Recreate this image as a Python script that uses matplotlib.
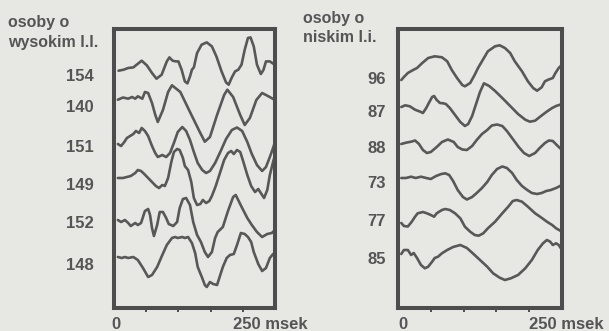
import matplotlib
matplotlib.use("Agg")
import matplotlib.pyplot as plt

# ---------------- data (time in ms, amplitude in arbitrary units) ----------------
left_labels = ["154", "140", "151", "149", "152", "148"]
right_labels = ["96", "87", "88", "73", "77", "85"]

# left panel: osoby o wysokim l.l.
t154 = [7, 15, 22, 30, 43, 51, 59, 66, 74, 82, 86, 91, 96, 100, 105, 110, 114, 118, 121, 124,
        129, 136, 144, 152, 159, 167, 174, 178, 183, 188, 193, 198, 203, 208, 212, 217, 222, 228,
        232, 236, 242, 248, 250]
a154 = [0, 1, 2.7, 3.3, 10, 5.3, -2.3, -8, -4, 9.3, 13.3, 10, 9.3, 9.3, 1, -10.7, -12.7, -5.7, 1,
        3.3, 17.7, 26, 28.3, 24.3, 14.3, -0.7, -11.7, -14, -6.7, -0.7, 1, 6, 21, 32.7, 33.3, 24.3,
        6, -3.3, 0.7, 9.3, 9.3, 6.7, 5.3]

t140 = [6, 14, 22, 28, 33, 37, 44, 48, 53, 59, 64, 68, 76, 84, 90, 103, 118, 134, 141, 149, 160,
        171, 176, 185, 196, 203, 211, 221, 230, 239, 250]
a140 = [0, 2.2, 1, 2.7, 1, 3.4, 1, 7.7, 6.7, -3.3, -15, -22.3, -10.3, 7.7, 14.4, 7.7, -12.3,
        -33.3, -42, -37.3, -15.3, 4.7, 10, 2.7, -15.3, -25.3, -18.3, -0.3, 6.7, 3.7, -0.3]

t151 = [6, 11, 16, 20, 25, 30, 34, 39, 43, 48, 53, 59, 64, 68, 75, 81, 87, 93, 99, 106, 112, 118,
        124, 130, 137, 143, 149, 157, 165, 174, 183, 191, 199, 207, 214, 222, 230, 236, 242, 247,
        250]
a151 = [0, -2, 2, 6, 8, 10, 13, 11, 16, 13, 8, -2, -9, -13, -11, -13, -9, 1, 12, 17, 13, 4, -8,
        -19, -26, -29, -27, -19, -8, 5, 14, 16.5, 13, 2, -10, -21, -27, -23, -13, -4, 2]

t149 = [6, 14, 20, 26, 33, 37, 42, 47, 53, 59, 65, 70, 75, 79, 84, 89, 93, 98, 102, 107, 110, 115,
        120, 124, 129, 134, 138, 143, 148, 152, 158, 165, 171, 177, 182, 186, 191, 196, 200, 207,
        213, 219, 224, 228, 233, 238, 242, 247, 250]
a149 = [0, 0, 1, 2, 5, 8, 7, 4, 0, -4, -8, -10, -7, -8, 0, 16, 26, 29, 28, 20, 12, 8, -4, -20, -27,
        -26, -22, -25, -23, -18, -8, 6, 18, 25, 27, 24, 28, 26, 18, 3, -8, -14, -11, -15, -20, -12,
        3, 16, 23]

t152 = [6, 11, 17, 22, 26, 33, 37, 42, 48, 53, 56, 59, 62, 67, 71, 76, 81, 85, 92, 98, 102, 107,
        112, 118, 123, 129, 135, 141, 146, 152, 157, 161, 169, 177, 185, 189, 199, 207, 214, 222,
        230, 238, 245, 250]
a152 = [0, -2, 0, -3, -6, -3, -5, -3, 9, 11, 5, -8, -16, -5, 8, 8, 2, -4, -6, -2, 12, 21, 22, 15,
        -2, -15, -22, -32, -37, -32, -18, -12, -7, 9, 23, 25, 12, 2, -5, -12, -17, -14, -13, -10]

t148 = [6, 12, 17, 22, 30, 37, 45, 53, 59, 67, 75, 82, 90, 95, 99, 106, 110, 115, 121, 126, 130,
        137, 141, 144, 149, 154, 160, 165, 169, 175, 180, 186, 191, 197, 203, 208, 213, 217, 224,
        230, 236, 242, 247, 250]
a148 = [0, -1, 0, -1, 0, -3, -11, -20, -18, -10, 2, 12, 19, 20, 19, 20, 19, 20, 14, 4, -10, -21,
        -28, -30, -25, -27, -28, -18, -10, -1, 2, 3, 12, 24, 23, 20, 15, 5, -7, -14, -11, -1, 3, 1]

# right panel: osoby o niskim l.i.
t96 = [5, 9, 15, 23, 29, 37, 46, 56, 67, 75, 82, 90, 98, 102, 110, 117, 122, 128, 137, 148, 155,
       163, 171, 178, 189, 198, 206, 212, 219, 224, 229, 236, 240, 245, 250]
a96 = [0, 3, 7, 10, 12, 17, 22, 23.7, 22.7, 18.7, 10, 2, -5, -6.3, -3, 5.3, 12, 18.7, 28.7, 33.7,
       34.7, 32, 27, 18.7, 8.7, -1.3, -8, -10.7, -7.3, -1.3, 0.3, 2, 7, 12, 15.3]

t87 = [5, 11, 18, 26, 34, 38, 43, 47, 52, 55, 59, 64, 69, 73, 79, 87, 95, 102, 107, 113, 119, 125,
       131, 139, 148, 159, 171, 183, 194, 201, 209, 216, 226, 235, 241, 250]
a87 = [0, 1.7, 0.7, -2.7, -4.7, -6, -1, 4, 10, 11, 7, 4, 3.7, 3, -1, -8, -15, -19, -17, -9, 3, 15,
       23.7, 21, 16, 9, 1, -7, -12.7, -14.7, -13.7, -10, -5, -1, 1, 3]

t88 = [5, 12, 20, 26, 32, 38, 44, 50, 59, 67, 76, 85, 91, 98, 105, 113, 120, 128, 136, 143, 151,
       159, 166, 175, 184, 192, 200, 209, 216, 224, 230, 236, 242, 250]
a88 = [0, 1.3, 2.3, 3.5, 0, -6, -9, -8, -3, 2, 4.5, 2, -3, -5.5, -6, -2, 4, 10, 14, 18.5, 19.5,
       18, 13, 5, -3, -9, -12, -9, -4, 1, 3.5, 3, -1, -6]

t73 = [5, 12, 20, 27, 35, 43, 50, 58, 66, 72, 78, 84, 91, 99, 105, 113, 120, 128, 136, 143, 151,
       159, 166, 174, 181, 189, 197, 204, 212, 219, 226, 233, 241, 250]
a73 = [0, 0, 1.3, 0, 1.3, 0, -1, 2, 4, 4.7, 3, -3, -12, -19, -21.5, -19, -15, -10, -4, 3, 9, 11.5,
       10, 5, -2, -8, -12, -15, -16, -15, -13, -12, -10, -7]

t77 = [5, 9, 15, 21, 26, 30, 38, 44, 50, 55, 59, 67, 72, 79, 87, 95, 102, 110, 117, 123, 130, 137,
       148, 159, 168, 175, 181, 189, 198, 209, 220, 227, 235, 241, 250]
a77 = [0, -3, -3.5, 1.3, 6.3, 9.7, 11, 9.7, 8, 6.3, 9.7, 13, 14, 13, 9.7, 4.7, -3.7, -8.7, -12,
       -12.7, -10.3, -5.3, 1.3, 9.7, 16.3, 22, 23, 21.3, 16.3, 9.7, 4.7, 1.3, -2, -5.3, -8.7]

t85 = [5, 9, 15, 20, 24, 29, 35, 41, 46, 52, 56, 61, 67, 75, 84, 95, 105, 114, 125, 136, 145, 155,
       163, 172, 183, 194, 204, 213, 221, 227, 232, 236, 241, 245, 250]
a85 = [0, 4, 4, -1, 1, -4, -11, -14.3, -12.7, -7.7, -4, -2.7, 0.7, 4, 7, 9, 6, 0.7, -6, -12.7,
       -19.3, -23.7, -26, -24.3, -21, -14.3, -6, 4, 10.7, 14, 12.3, 9, 10.7, 9, 4]

left_series = [(t154, a154), (t140, a140), (t151, a151), (t149, a149), (t152, a152), (t148, a148)]
right_series = [(t96, a96), (t87, a87), (t88, a88), (t73, a73), (t77, a77), (t85, a85)]

# ---------------- layout ----------------
left_baselines = [237.3, 208.3, 164, 130, 88, 51]
right_baselines = [228, 201, 164, 130, 85, 54]
left_label_pos = [233, 201.5, 161.5, 124.5, 86.5, 43.5]
right_label_pos = [230, 197, 161, 126, 88, 50]

BG = "#e7e7e3"
INK = "#585858"
FRAME = "#4d4d4d"
TXT = "#555555"
W, H = 609, 331

plt.rcParams["font.family"] = ["Liberation Sans", "DejaVu Sans"]

fig = plt.figure(figsize=(W / 100, H / 100), dpi=100, facecolor=BG)


def make_panel(x0, width, series, baselines, labels, label_pos, pad):
    ax = fig.add_axes([x0 / W, 23 / H, width / W, 279 / H], facecolor=BG)
    for (t, a), b in zip(series, baselines):
        ax.plot(t, [b + v for v in a], color=INK, lw=1.9, solid_joinstyle="round",
                solid_capstyle="round")
    ax.set_xlim(0, 250)
    ax.set_ylim(0, 279)
    for s in ax.spines.values():
        s.set_linewidth(2.9)
        s.set_color(FRAME)
    ax.set_xticks([50, 100, 150, 200])
    ax.set_xticklabels([])
    ax.tick_params(axis="x", direction="out", length=3, width=1.4, color=FRAME)
    ax.set_yticks(label_pos)
    ax.set_yticklabels(labels, fontsize=12, fontweight="bold", color=TXT)
    ax.tick_params(axis="y", length=0, pad=pad)
    return ax


make_panel(114, 161, left_series, left_baselines, left_labels, left_label_pos, 14.5)
make_panel(398, 164, right_series, right_baselines, right_labels, right_label_pos, 8.5)

hdr = dict(color=TXT, fontsize=11.5, fontweight="bold", va="baseline", ha="left")
fig.text(8 / W, 1 - 26.5 / H, "osoby o", **hdr)
fig.text(8 / W, 1 - 46.5 / H, "wysokim l.l.", **hdr)
fig.text(303 / W, 1 - 23 / H, "osoby o", **hdr)
fig.text(303 / W, 1 - 42 / H, "niskim l.i.", **hdr)

bot = dict(color=TXT, fontsize=12, fontweight="bold", va="baseline")
fig.text(116 / W, 1 - 329 / H, "0", ha="center", **bot)
fig.text(233 / W, 1 - 329 / H, "250 msek", ha="left", **bot)
fig.text(402.5 / W, 1 - 329 / H, "0", ha="center", **bot)
fig.text(529 / W, 1 - 329 / H, "250 msek", ha="left", **bot)

fig.savefig("out.png", dpi=100, facecolor=BG)
